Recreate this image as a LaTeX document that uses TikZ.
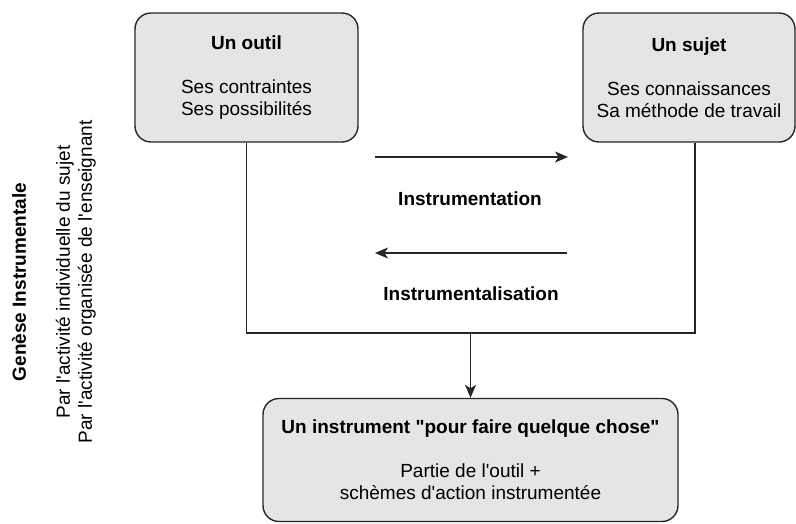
\documentclass[tikz,border=0pt]{standalone}
\usepackage{fontspec}
\newfontfamily\diafont{Liberation Sans}
\usetikzlibrary{arrows.meta}
\usetikzlibrary{positioning}
\colorlet{boxFill}{black!10}
\colorlet{penColor}{black!85}
\tikzset{>={Stealth[length=13pt,width=11pt,inset=3.5pt]}}
\tikzset{
  every node/.style={font=\diafont\fontsize{19}{22}\selectfont, text=black},
  box/.style={draw=penColor, fill=boxFill, line width=1.4pt, rounded corners=16pt, align=center, inner sep=0pt},
  link/.style={draw=penColor, line width=1.4pt},
  lbl/.style={font=\diafont\bfseries\fontsize{19}{22}\selectfont}
}

\begin{document}
\begin{tikzpicture}[x=1pt,y=-1pt]
\useasboundingbox (0,0) rectangle (796,523);
% the two starting boxes
\node [box, minimum width=223pt, minimum height=129pt] (outil) at (246.5,77.5)
  {\textbf{Un outil}\\[22pt]Ses contraintes\\Ses possibilités};
\node [box, minimum width=212pt, minimum height=129pt] (sujet) at (689,77.5)
  {\textbf{Un sujet}\\[22pt]Ses connaissances\\Sa méthode de travail};
% result
\node [box, minimum width=415pt, minimum height=123pt] (instrument) at (470.5,460)
  {\textbf{Un instrument "pour faire quelque chose"}\\[22pt]Partie de l'outil +\\schèmes d'action instrumentée};
% side text
\node [rotate=90, align=center] (genese) at (54,282)
  {\textbf{Genèse Instrumentale}\\[22pt]Par l'activité individuelle du sujet\\Par l'activité organisée de l'enseignant};
% the two processes
\coordinate (i1) at (375,157);
\coordinate (i2) at (568,157);
\coordinate (r1) at (567,253);
\coordinate (r2) at (375,253);
\draw[link,->] (i1) -- (i2);
\draw[link,->] (r1) -- (r2);
\node [lbl] (instr) at (470,199) {Instrumentation};
\node [lbl] (instal) at (471,294) {Instrumentalisation};
% joining lines
\coordinate (base) at (470.5,333);
\draw[link] (outil.south) |- (base) -| ([xshift=6pt]sujet.south);
\draw[link,->] (base) -- (instrument.north);
\end{tikzpicture}
\end{document}
